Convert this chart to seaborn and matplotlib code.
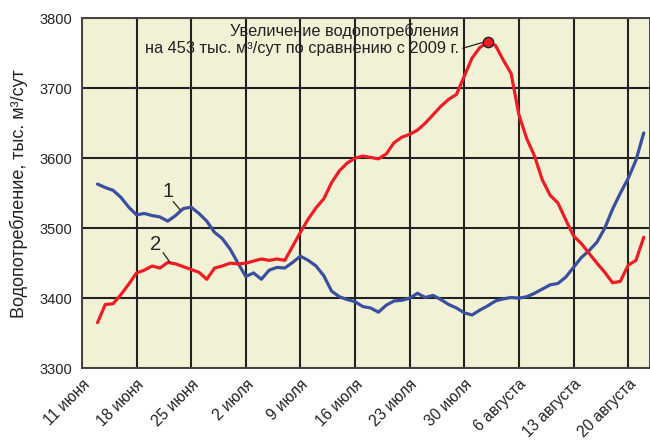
import pandas as pd
import matplotlib.pyplot as plt
import matplotlib.transforms as mtransforms
import seaborn as sns

# =========================
# DADES (llegides del gràfic)
# =========================
dates = pd.date_range("2010-06-13", periods=71, freq="D")

series_1 = [3563, 3558, 3554, 3544, 3530, 3519, 3521, 3518, 3516, 3510,
            3518, 3528, 3530, 3521, 3510, 3494, 3485, 3470, 3450, 3431,
            3436, 3427, 3440, 3444, 3443, 3451, 3460, 3454, 3446, 3432,
            3410, 3402, 3398, 3395, 3388, 3386, 3380, 3390, 3396, 3397,
            3400, 3407, 3401, 3404, 3398, 3391, 3386, 3379, 3376, 3383,
            3389, 3396, 3399, 3401, 3400, 3402, 3407, 3413, 3419, 3421,
            3430, 3444, 3458, 3468, 3480, 3500, 3527, 3550, 3571, 3597,
            3636]

series_2 = [3365, 3391, 3392, 3405, 3420, 3436, 3440, 3446, 3443, 3451,
            3449, 3445, 3441, 3437, 3427, 3443, 3446, 3450, 3449, 3450,
            3453, 3456, 3454, 3456, 3454, 3474, 3494, 3513, 3529, 3542,
            3565, 3582, 3593, 3600, 3603, 3601, 3599, 3606, 3622, 3630,
            3634, 3640, 3650, 3662, 3674, 3684, 3691, 3717, 3743, 3758,
            3766, 3761, 3740, 3721, 3662, 3628, 3603, 3569, 3547, 3536,
            3512, 3489, 3478, 3464, 3450, 3437, 3422, 3424, 3447, 3454,
            3487]

tick_dates = pd.date_range("2010-06-11", periods=11, freq="7D")
tick_labels = ["11 июня", "18 июня", "25 июня", "2 июля", "9 июля",
               "16 июля", "23 июля", "30 июля", "6 августа", "13 августа",
               "20 августа"]

y_ticks = [3300, 3400, 3500, 3600, 3700, 3800]

peak_idx = series_2.index(max(series_2))
peak_text = "Увеличение водопотребления\nна 453 тыс. м³/сут по сравнению с 2009 г."

df = pd.DataFrame({"date": dates, "s1": series_1, "s2": series_2})

# =========================
# ESTIL
# =========================
sns.set_style("white", {"axes.facecolor": "#f1f2d5", "axes.edgecolor": "#333333"})
plt.rcParams["font.family"] = ["Liberation Sans", "DejaVu Sans"]

fig = plt.figure(figsize=(6.5, 4.42), dpi=100)
ax = fig.add_axes([0.126, 0.167, 0.874, 0.792])

sns.lineplot(data=df, x="date", y="s1", color="#3a4fa0", linewidth=2.3, ax=ax)
sns.lineplot(data=df, x="date", y="s2", color="#ee1c25", linewidth=2.3, ax=ax)

# punt màxim
ax.scatter([dates[peak_idx]], [series_2[peak_idx]], s=55, color="#ee1c25",
           edgecolor="#222222", linewidth=1, zorder=5)

# =========================
# EIXOS
# =========================
d0 = pd.Timestamp("2010-06-11")
ax.set_xlim(d0, d0 + pd.Timedelta(days=72.8))
ax.set_ylim(3300, 3800)
ax.set_xticks(tick_dates)
ax.set_xticklabels(tick_labels, rotation=45, ha="right", va="top",
                   rotation_mode="anchor", fontsize=11.2)
for lab in ax.get_xticklabels():
    lab.set_transform(lab.get_transform() +
                      mtransforms.ScaledTranslation(11 / 100, 0, fig.dpi_scale_trans))
ax.set_yticks(y_ticks)
ax.tick_params(axis="both", length=0, colors="#222222")
ax.tick_params(axis="y", labelsize=10.5, pad=7)
ax.tick_params(axis="x", pad=6)
ax.grid(True, color="#222222", linewidth=1.5)
ax.set_axisbelow(True)
for sp in ax.spines.values():
    sp.set_linewidth(1.4)
    sp.set_color("#444444")

ax.set_xlabel("")
ax.set_ylabel("Водопотребление, тыс. м³/сут", fontsize=13, color="#222222", labelpad=8)

# =========================
# ANOTACIONS
# =========================
ax.text(d0 + pd.Timedelta(days=11.0), 3552, "1", fontsize=14.5, ha="center", va="center")
ax.plot([d0 + pd.Timedelta(days=11.7), d0 + pd.Timedelta(days=12.6)], [3538, 3526],
        color="#222222", linewidth=0.9)
ax.text(d0 + pd.Timedelta(days=9.4), 3477, "2", fontsize=14.5, ha="center", va="center")
ax.plot([d0 + pd.Timedelta(days=10.4), d0 + pd.Timedelta(days=11.3)], [3465, 3451],
        color="#222222", linewidth=0.9)

ax.text(d0 + pd.Timedelta(days=48.3), 3769, peak_text, fontsize=11.8, ha="right",
        va="center", multialignment="right", linespacing=1.15, color="#222222")
ax.plot([d0 + pd.Timedelta(days=48.8), d0 + pd.Timedelta(days=51.6)], [3757, 3766],
        color="#222222", linewidth=0.9)

plt.savefig("out.png", dpi=100)
plt.close()
